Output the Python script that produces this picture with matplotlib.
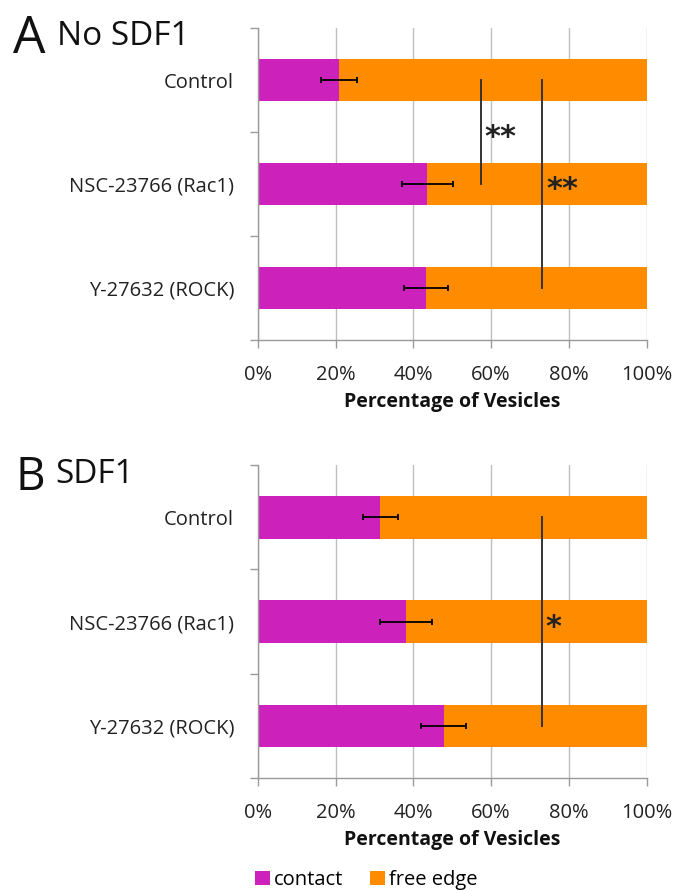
import matplotlib
matplotlib.use("Agg")
import matplotlib.pyplot as plt
from matplotlib.patches import Patch
from matplotlib.ticker import PercentFormatter, FixedLocator

plt.rcParams['font.family'] = ['Open Sans', 'DejaVu Sans']

# Treatments (top to bottom)
categories = ["Control", "NSC-23766 (Rac1)", "Y-27632 (ROCK)"]

# Panel A: no SDF1 -- percentage of vesicles at cell contacts (mean, error)
contact_no_sdf1 = [20.8, 43.6, 43.3]
err_no_sdf1 = [4.6, 6.6, 5.7]

# Panel B: SDF1
contact_sdf1 = [31.5, 38.1, 47.8]
err_sdf1 = [4.5, 6.6, 5.7]

# Remaining vesicles are at the free edge
free_no_sdf1 = [100 - v for v in contact_no_sdf1]
free_sdf1 = [100 - v for v in contact_sdf1]

# Significance brackets: (first row, last row, x position %, star label, label row)
sig_no_sdf1 = [(0, 1, 57.3, "**", 0.5), (0, 2, 73.1, "**", 1.0)]
sig_sdf1 = [(0, 2, 73.0, "*", 1.0)]

tick_values = [0, 20, 40, 60, 80, 100]

C_CONTACT = "#CC22BB"
C_FREE = "#FF8C00"
GRID = "#BEBEBE"
AXIS = "#9A9A9A"

W, H = 674, 891
fig = plt.figure(figsize=(W / 100, H / 100), dpi=100)


def px_axes(left, top, right, bottom):
    return fig.add_axes([left / W, 1 - bottom / H, (right - left) / W, (bottom - top) / H])


def draw_panel(ax, contact, err, free, sigs):
    y = list(range(len(categories)))
    ax.barh(y, contact, height=0.41, color=C_CONTACT, zorder=2)
    ax.barh(y, free, left=contact, height=0.41, color=C_FREE, zorder=2)
    ax.errorbar(contact, y, xerr=err, fmt='none', ecolor='black',
                elinewidth=1.3, capsize=2.2, capthick=1.3, zorder=3)
    for r0, r1, xs, label, ry in sigs:
        ax.plot([xs, xs], [r0, r1], color='#333333', lw=1.4, zorder=4)
        ax.annotate(label, xy=(xs, ry), xytext=(3, -10), textcoords='offset points',
                    ha='left', va='baseline', fontsize=22, fontweight='bold',
                    color='#222222', zorder=5, family='DejaVu Sans')
    ax.set_xlim(0, 100)
    ax.set_ylim(2.5, -0.5)
    ax.set_xticks(tick_values)
    ax.xaxis.set_major_formatter(PercentFormatter(decimals=0))
    ax.set_yticks(y)
    ax.set_yticklabels(categories)
    ax.yaxis.set_minor_locator(FixedLocator([-0.5, 0.5, 1.5, 2.5]))
    ax.tick_params(axis='y', which='major', length=0, pad=17, labelsize=14.5, labelcolor='#222222')
    ax.tick_params(axis='y', which='minor', length=6, width=1, color=AXIS)
    ax.tick_params(axis='x', which='major', length=6, width=1, color=AXIS, pad=12,
                   labelsize=14.5, labelcolor='#222222')
    ax.grid(axis='x', color=GRID, lw=1, zorder=0)
    ax.set_axisbelow(True)
    for s in ('top', 'right'):
        ax.spines[s].set_visible(False)
    for s in ('left', 'bottom'):
        ax.spines[s].set_color(AXIS)
        ax.spines[s].set_linewidth(1)
    ax.set_xlabel("Percentage of Vesicles", fontsize=14, fontweight='bold',
                  color='#111111', labelpad=5)


ax_a = px_axes(257.7, 28, 646.7, 340)
draw_panel(ax_a, contact_no_sdf1, err_no_sdf1, free_no_sdf1, sig_no_sdf1)

ax_b = px_axes(257.7, 465, 646.7, 778.3)
draw_panel(ax_b, contact_sdf1, err_sdf1, free_sdf1, sig_sdf1)

# Panel titles
fig.text(13 / W, 1 - 53 / H, "A", fontsize=37, va='baseline', ha='left', color='#111111')
fig.text(57 / W, 1 - 45 / H, "No SDF1", fontsize=24, va='baseline', ha='left', color='#111111')
fig.text(15 / W, 1 - 490 / H, "B", fontsize=33, va='baseline', ha='left', color='#111111')
fig.text(55 / W, 1 - 483 / H, "SDF1", fontsize=24, va='baseline', ha='left', color='#111111')

handles = [Patch(facecolor=C_CONTACT, label="contact"),
           Patch(facecolor=C_FREE, label="free edge")]
fig.legend(handles=handles, loc='center', bbox_to_anchor=(366 / W, 1 - 880 / H), ncol=2,
           frameon=False, fontsize=14.5, handlelength=0.75, handleheight=0.75,
           handletextpad=0.2, columnspacing=1.3, borderpad=0)

fig.savefig("out.png", dpi=100)
